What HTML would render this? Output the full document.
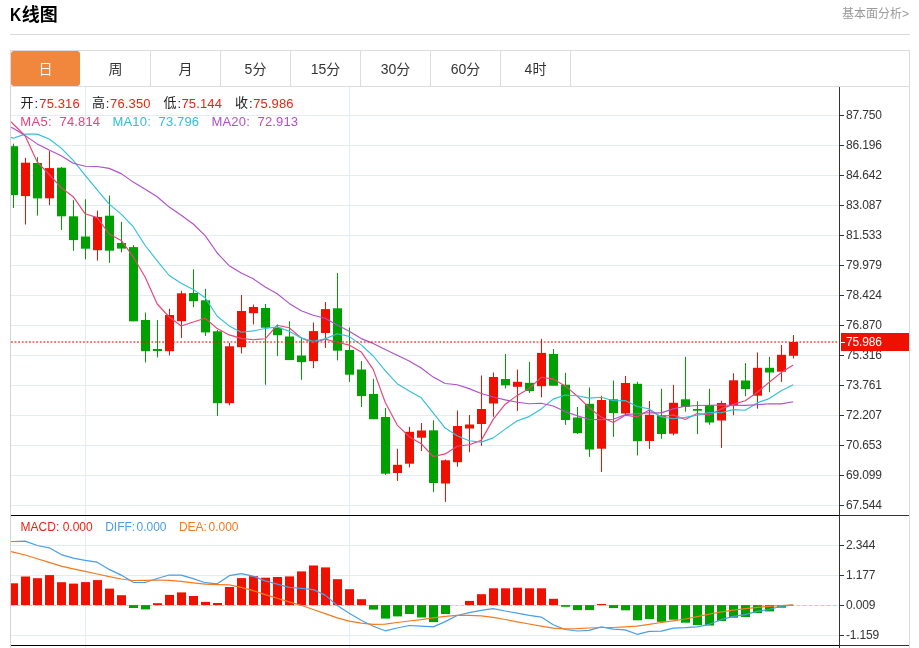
<!DOCTYPE html><html lang="zh"><head><meta charset="utf-8"><title>K线图</title><style>
html,body{margin:0;padding:0;background:#fff}
body{width:919px;height:648px;overflow:hidden;position:relative;font-family:"Liberation Sans","Noto Sans CJK SC",sans-serif;color:#333}
.title{position:absolute;left:10px;top:2px;font-size:18px;font-weight:bold;color:#000;line-height:26px;white-space:nowrap}
.more{position:absolute;right:10px;top:4.5px;font-size:12px;color:#999;line-height:18px;white-space:nowrap}
.hr{position:absolute;left:10px;top:34px;width:900px;height:1px;background:#d9d9d9}
.tabs{position:absolute;left:10px;top:50px;width:898px;height:35px;border:1px solid #dcdcdc;background:#fff}
.tab{position:absolute;top:0;width:69px;height:35px;line-height:36px;text-align:center;font-size:14px;color:#333;border-right:1px solid #dcdcdc}
.tab.on{background:#f0873c;color:#fff;border-radius:3px;border-right:0;width:69px}
svg{position:absolute;left:0;top:0}
svg text{font-family:"Liberation Sans","Noto Sans CJK SC",sans-serif}

</style></head><body>
<div class="title"><span style="display:inline-block;transform:scaleX(0.86);transform-origin:0 50%;margin-right:-1.2px">K</span>线图</div>
<div class="more">基本面分析&gt;</div>
<div class="hr"></div>
<div class="tabs">
<div class="tab on" style="left:0px">日</div>
<div class="tab" style="left:70px">周</div>
<div class="tab" style="left:140px">月</div>
<div class="tab" style="left:210px">5分</div>
<div class="tab" style="left:280px">15分</div>
<div class="tab" style="left:350px">30分</div>
<div class="tab" style="left:420px">60分</div>
<div class="tab" style="left:490px">4时</div>
</div>
<svg width="919" height="648" viewBox="0 0 919 648">
<defs><clipPath id="cp"><rect x="11" y="87" width="828" height="561"/></clipPath></defs>
<rect x="10" y="87" width="1" height="561" fill="#d4d4d4"/>
<rect x="909" y="87" width="1" height="561" fill="#dcdcdc"/>
<rect x="11" y="115" width="828" height="1" fill="#e1ecf4"/>
<rect x="11" y="145" width="828" height="1" fill="#e1ecf4"/>
<rect x="11" y="175" width="828" height="1" fill="#e1ecf4"/>
<rect x="11" y="205" width="828" height="1" fill="#e1ecf4"/>
<rect x="11" y="235" width="828" height="1" fill="#e1ecf4"/>
<rect x="11" y="265" width="828" height="1" fill="#e1ecf4"/>
<rect x="11" y="295" width="828" height="1" fill="#e1ecf4"/>
<rect x="11" y="325" width="828" height="1" fill="#e1ecf4"/>
<rect x="11" y="355" width="828" height="1" fill="#e1ecf4"/>
<rect x="11" y="385" width="828" height="1" fill="#e1ecf4"/>
<rect x="11" y="415" width="828" height="1" fill="#e1ecf4"/>
<rect x="11" y="445" width="828" height="1" fill="#e1ecf4"/>
<rect x="11" y="475" width="828" height="1" fill="#e1ecf4"/>
<rect x="11" y="505" width="828" height="1" fill="#e1ecf4"/>
<rect x="11" y="545" width="828" height="1" fill="#e1ecf4"/>
<rect x="11" y="575" width="828" height="1" fill="#e1ecf4"/>
<rect x="11" y="605" width="828" height="1" fill="#e1ecf4"/>
<rect x="11" y="635" width="828" height="1" fill="#e1ecf4"/>
<rect x="85" y="87" width="1" height="561" fill="#e1ecf4"/>
<rect x="349" y="87" width="1" height="561" fill="#e1ecf4"/>
<line x1="11" y1="605.5" x2="839" y2="605.5" stroke="#a4d6f0" stroke-width="1" stroke-dasharray="3.2 2.8"/>
<g clip-path="url(#cp)">
<rect x="13.0" y="143.7" width="1" height="64.3" fill="#00a000"/>
<rect x="9.0" y="146.2" width="9" height="48.9" fill="#00a000"/>
<rect x="25.0" y="157.8" width="1" height="66.7" fill="#ee1100"/>
<rect x="21.0" y="162.7" width="9" height="33.4" fill="#ee1100"/>
<rect x="37.0" y="157.1" width="1" height="58.5" fill="#00a000"/>
<rect x="33.0" y="163.0" width="9" height="35.4" fill="#00a000"/>
<rect x="49.0" y="151.2" width="1" height="54.0" fill="#ee1100"/>
<rect x="45.0" y="168.1" width="9" height="30.2" fill="#ee1100"/>
<rect x="61.0" y="167.1" width="1" height="62.9" fill="#00a000"/>
<rect x="57.0" y="167.7" width="9" height="48.6" fill="#00a000"/>
<rect x="73.0" y="200.1" width="1" height="50.7" fill="#00a000"/>
<rect x="69.0" y="216.3" width="9" height="23.8" fill="#00a000"/>
<rect x="85.0" y="199.2" width="1" height="60.0" fill="#00a000"/>
<rect x="81.0" y="236.5" width="9" height="12.2" fill="#00a000"/>
<rect x="97.0" y="210.6" width="1" height="50.0" fill="#ee1100"/>
<rect x="93.0" y="216.9" width="9" height="33.3" fill="#ee1100"/>
<rect x="109.0" y="195.5" width="1" height="67.4" fill="#00a000"/>
<rect x="105.0" y="215.7" width="9" height="35.0" fill="#00a000"/>
<rect x="121.0" y="221.8" width="1" height="30.5" fill="#00a000"/>
<rect x="117.0" y="243.0" width="9" height="5.6" fill="#00a000"/>
<rect x="133.0" y="245.1" width="1" height="76.2" fill="#00a000"/>
<rect x="129.0" y="247.1" width="9" height="74.2" fill="#00a000"/>
<rect x="145.0" y="312.5" width="1" height="49.9" fill="#00a000"/>
<rect x="141.0" y="320.0" width="9" height="31.2" fill="#00a000"/>
<rect x="157.0" y="320.0" width="1" height="37.4" fill="#00a000"/>
<rect x="153.0" y="349.0" width="9" height="2.0" fill="#00a000"/>
<rect x="169.0" y="308.8" width="1" height="46.6" fill="#ee1100"/>
<rect x="165.0" y="315.0" width="9" height="36.2" fill="#ee1100"/>
<rect x="181.0" y="290.8" width="1" height="47.1" fill="#ee1100"/>
<rect x="177.0" y="293.3" width="9" height="27.9" fill="#ee1100"/>
<rect x="193.0" y="269.3" width="1" height="37.9" fill="#00a000"/>
<rect x="189.0" y="293.0" width="9" height="8.2" fill="#00a000"/>
<rect x="205.0" y="288.8" width="1" height="47.1" fill="#00a000"/>
<rect x="201.0" y="300.3" width="9" height="32.1" fill="#00a000"/>
<rect x="217.0" y="330.0" width="1" height="85.9" fill="#00a000"/>
<rect x="213.0" y="331.3" width="9" height="71.9" fill="#00a000"/>
<rect x="229.0" y="343.0" width="1" height="62.4" fill="#ee1100"/>
<rect x="225.0" y="346.3" width="9" height="56.9" fill="#ee1100"/>
<rect x="241.0" y="295.0" width="1" height="58.4" fill="#ee1100"/>
<rect x="237.0" y="311.0" width="9" height="36.2" fill="#ee1100"/>
<rect x="253.0" y="304.5" width="1" height="19.9" fill="#ee1100"/>
<rect x="249.0" y="307.0" width="9" height="6.2" fill="#ee1100"/>
<rect x="265.0" y="304.0" width="1" height="80.8" fill="#00a000"/>
<rect x="261.0" y="308.0" width="9" height="19.7" fill="#00a000"/>
<rect x="277.0" y="324.5" width="1" height="31.4" fill="#00a000"/>
<rect x="273.0" y="327.8" width="9" height="7.4" fill="#00a000"/>
<rect x="289.0" y="321.3" width="1" height="38.8" fill="#00a000"/>
<rect x="285.0" y="336.5" width="9" height="23.6" fill="#00a000"/>
<rect x="301.0" y="337.5" width="1" height="42.3" fill="#00a000"/>
<rect x="297.0" y="355.5" width="9" height="6.6" fill="#00a000"/>
<rect x="313.0" y="322.5" width="1" height="45.7" fill="#ee1100"/>
<rect x="309.0" y="331.1" width="9" height="30.0" fill="#ee1100"/>
<rect x="325.0" y="302.0" width="1" height="45.9" fill="#ee1100"/>
<rect x="321.0" y="309.1" width="9" height="23.9" fill="#ee1100"/>
<rect x="337.0" y="272.9" width="1" height="87.5" fill="#00a000"/>
<rect x="333.0" y="308.3" width="9" height="42.4" fill="#00a000"/>
<rect x="349.0" y="327.5" width="1" height="54.4" fill="#00a000"/>
<rect x="345.0" y="350.0" width="9" height="24.7" fill="#00a000"/>
<rect x="361.0" y="361.0" width="1" height="46.0" fill="#00a000"/>
<rect x="357.0" y="369.5" width="9" height="26.6" fill="#00a000"/>
<rect x="373.0" y="378.8" width="1" height="40.4" fill="#00a000"/>
<rect x="369.0" y="394.0" width="9" height="25.2" fill="#00a000"/>
<rect x="385.0" y="408.0" width="1" height="66.9" fill="#00a000"/>
<rect x="381.0" y="417.0" width="9" height="56.7" fill="#00a000"/>
<rect x="397.0" y="448.8" width="1" height="32.1" fill="#ee1100"/>
<rect x="393.0" y="464.8" width="9" height="8.2" fill="#ee1100"/>
<rect x="409.0" y="426.8" width="1" height="40.6" fill="#ee1100"/>
<rect x="405.0" y="431.8" width="9" height="31.9" fill="#ee1100"/>
<rect x="421.0" y="423.0" width="1" height="28.0" fill="#ee1100"/>
<rect x="417.0" y="430.5" width="9" height="7.2" fill="#ee1100"/>
<rect x="433.0" y="420.3" width="1" height="71.9" fill="#00a000"/>
<rect x="429.0" y="430.3" width="9" height="52.7" fill="#00a000"/>
<rect x="445.0" y="459.5" width="1" height="42.4" fill="#ee1100"/>
<rect x="441.0" y="460.3" width="9" height="23.2" fill="#ee1100"/>
<rect x="457.0" y="410.5" width="1" height="56.2" fill="#ee1100"/>
<rect x="453.0" y="426.0" width="9" height="36.2" fill="#ee1100"/>
<rect x="469.0" y="415.0" width="1" height="37.2" fill="#ee1100"/>
<rect x="465.0" y="424.5" width="9" height="4.0" fill="#ee1100"/>
<rect x="481.0" y="375.5" width="1" height="70.4" fill="#ee1100"/>
<rect x="477.0" y="409.0" width="9" height="15.0" fill="#ee1100"/>
<rect x="493.0" y="372.5" width="1" height="44.2" fill="#ee1100"/>
<rect x="489.0" y="377.0" width="9" height="26.5" fill="#ee1100"/>
<rect x="505.0" y="354.0" width="1" height="34.4" fill="#00a000"/>
<rect x="501.0" y="379.0" width="9" height="6.3" fill="#00a000"/>
<rect x="517.0" y="369.5" width="1" height="41.4" fill="#ee1100"/>
<rect x="513.0" y="381.8" width="9" height="5.0" fill="#ee1100"/>
<rect x="529.0" y="361.8" width="1" height="31.1" fill="#00a000"/>
<rect x="525.0" y="382.8" width="9" height="8.2" fill="#00a000"/>
<rect x="541.0" y="338.9" width="1" height="58.4" fill="#ee1100"/>
<rect x="537.0" y="352.9" width="9" height="33.3" fill="#ee1100"/>
<rect x="553.0" y="349.0" width="1" height="36.7" fill="#00a000"/>
<rect x="549.0" y="354.0" width="9" height="31.7" fill="#00a000"/>
<rect x="565.0" y="372.9" width="1" height="52.0" fill="#00a000"/>
<rect x="561.0" y="384.7" width="9" height="35.3" fill="#00a000"/>
<rect x="577.0" y="407.0" width="1" height="26.9" fill="#00a000"/>
<rect x="573.0" y="417.5" width="9" height="15.7" fill="#00a000"/>
<rect x="589.0" y="387.5" width="1" height="69.4" fill="#00a000"/>
<rect x="585.0" y="403.8" width="9" height="45.7" fill="#00a000"/>
<rect x="601.0" y="395.8" width="1" height="76.1" fill="#ee1100"/>
<rect x="597.0" y="400.0" width="9" height="48.7" fill="#ee1100"/>
<rect x="613.0" y="380.5" width="1" height="56.4" fill="#00a000"/>
<rect x="609.0" y="399.3" width="9" height="13.7" fill="#00a000"/>
<rect x="625.0" y="376.0" width="1" height="39.4" fill="#ee1100"/>
<rect x="621.0" y="383.0" width="9" height="30.5" fill="#ee1100"/>
<rect x="637.0" y="381.8" width="1" height="73.6" fill="#00a000"/>
<rect x="633.0" y="383.8" width="9" height="57.4" fill="#00a000"/>
<rect x="649.0" y="401.0" width="1" height="47.9" fill="#ee1100"/>
<rect x="645.0" y="414.8" width="9" height="26.2" fill="#ee1100"/>
<rect x="661.0" y="388.8" width="1" height="49.9" fill="#00a000"/>
<rect x="657.0" y="415.3" width="9" height="18.7" fill="#00a000"/>
<rect x="673.0" y="384.8" width="1" height="50.6" fill="#ee1100"/>
<rect x="669.0" y="402.8" width="9" height="30.9" fill="#ee1100"/>
<rect x="685.0" y="356.8" width="1" height="54.9" fill="#00a000"/>
<rect x="681.0" y="399.3" width="9" height="7.7" fill="#00a000"/>
<rect x="697.0" y="401.3" width="1" height="32.9" fill="#00a000"/>
<rect x="693.0" y="409.0" width="9" height="1.7" fill="#00a000"/>
<rect x="709.0" y="388.9" width="1" height="35.9" fill="#00a000"/>
<rect x="705.0" y="405.0" width="9" height="17.5" fill="#00a000"/>
<rect x="721.0" y="400.8" width="1" height="47.1" fill="#ee1100"/>
<rect x="717.0" y="403.0" width="9" height="17.5" fill="#ee1100"/>
<rect x="733.0" y="373.3" width="1" height="41.9" fill="#ee1100"/>
<rect x="729.0" y="380.3" width="9" height="25.3" fill="#ee1100"/>
<rect x="745.0" y="363.1" width="1" height="33.1" fill="#00a000"/>
<rect x="741.0" y="380.5" width="9" height="8.6" fill="#00a000"/>
<rect x="757.0" y="352.5" width="1" height="56.2" fill="#ee1100"/>
<rect x="753.0" y="367.8" width="9" height="27.9" fill="#ee1100"/>
<rect x="769.0" y="356.8" width="1" height="35.4" fill="#00a000"/>
<rect x="765.0" y="367.8" width="9" height="4.7" fill="#00a000"/>
<rect x="781.0" y="345.0" width="1" height="36.9" fill="#ee1100"/>
<rect x="777.0" y="354.8" width="9" height="16.9" fill="#ee1100"/>
<rect x="793.0" y="335.0" width="1" height="23.5" fill="#ee1100"/>
<rect x="789.0" y="342.0" width="9" height="13.8" fill="#ee1100"/>
<rect x="9.0" y="583.3" width="9" height="21.8" fill="#ee1100"/>
<rect x="21.0" y="576.5" width="9" height="28.6" fill="#ee1100"/>
<rect x="33.0" y="578.2" width="9" height="26.9" fill="#ee1100"/>
<rect x="45.0" y="575.1" width="9" height="30.0" fill="#ee1100"/>
<rect x="57.0" y="582.2" width="9" height="22.9" fill="#ee1100"/>
<rect x="69.0" y="583.6" width="9" height="21.5" fill="#ee1100"/>
<rect x="81.0" y="582.1" width="9" height="23.0" fill="#ee1100"/>
<rect x="93.0" y="580.1" width="9" height="25.0" fill="#ee1100"/>
<rect x="105.0" y="588.6" width="9" height="16.5" fill="#ee1100"/>
<rect x="117.0" y="595.2" width="9" height="9.9" fill="#ee1100"/>
<rect x="129.0" y="605.1" width="9" height="2.9" fill="#00a000"/>
<rect x="141.0" y="605.1" width="9" height="4.3" fill="#00a000"/>
<rect x="153.0" y="603.2" width="9" height="1.9" fill="#ee1100"/>
<rect x="165.0" y="594.9" width="9" height="10.2" fill="#ee1100"/>
<rect x="177.0" y="592.4" width="9" height="12.7" fill="#ee1100"/>
<rect x="189.0" y="596.0" width="9" height="9.1" fill="#ee1100"/>
<rect x="201.0" y="601.9" width="9" height="3.2" fill="#ee1100"/>
<rect x="213.0" y="603.0" width="9" height="2.1" fill="#ee1100"/>
<rect x="225.0" y="587.0" width="9" height="18.1" fill="#ee1100"/>
<rect x="237.0" y="578.1" width="9" height="27.0" fill="#ee1100"/>
<rect x="249.0" y="576.2" width="9" height="28.9" fill="#ee1100"/>
<rect x="261.0" y="577.7" width="9" height="27.4" fill="#ee1100"/>
<rect x="273.0" y="577.0" width="9" height="28.1" fill="#ee1100"/>
<rect x="285.0" y="576.4" width="9" height="28.7" fill="#ee1100"/>
<rect x="297.0" y="571.4" width="9" height="33.7" fill="#ee1100"/>
<rect x="309.0" y="565.5" width="9" height="39.6" fill="#ee1100"/>
<rect x="321.0" y="567.4" width="9" height="37.7" fill="#ee1100"/>
<rect x="333.0" y="579.2" width="9" height="25.9" fill="#ee1100"/>
<rect x="345.0" y="589.2" width="9" height="15.9" fill="#ee1100"/>
<rect x="357.0" y="599.2" width="9" height="5.9" fill="#ee1100"/>
<rect x="369.0" y="605.1" width="9" height="4.5" fill="#00a000"/>
<rect x="381.0" y="605.1" width="9" height="13.5" fill="#00a000"/>
<rect x="393.0" y="605.1" width="9" height="11.3" fill="#00a000"/>
<rect x="405.0" y="605.1" width="9" height="8.9" fill="#00a000"/>
<rect x="417.0" y="605.1" width="9" height="12.4" fill="#00a000"/>
<rect x="429.0" y="605.1" width="9" height="17.0" fill="#00a000"/>
<rect x="441.0" y="605.1" width="9" height="8.9" fill="#00a000"/>
<rect x="465.0" y="600.9" width="9" height="4.2" fill="#ee1100"/>
<rect x="477.0" y="594.2" width="9" height="10.9" fill="#ee1100"/>
<rect x="489.0" y="588.3" width="9" height="16.8" fill="#ee1100"/>
<rect x="501.0" y="588.3" width="9" height="16.8" fill="#ee1100"/>
<rect x="513.0" y="587.7" width="9" height="17.4" fill="#ee1100"/>
<rect x="525.0" y="588.3" width="9" height="16.8" fill="#ee1100"/>
<rect x="537.0" y="588.3" width="9" height="16.8" fill="#ee1100"/>
<rect x="549.0" y="598.8" width="9" height="6.3" fill="#ee1100"/>
<rect x="561.0" y="605.1" width="9" height="1.7" fill="#00a000"/>
<rect x="573.0" y="605.1" width="9" height="5.0" fill="#00a000"/>
<rect x="585.0" y="605.1" width="9" height="5.0" fill="#00a000"/>
<rect x="597.0" y="604.0" width="9" height="1.1" fill="#ee1100"/>
<rect x="609.0" y="605.1" width="9" height="3.0" fill="#00a000"/>
<rect x="621.0" y="605.1" width="9" height="5.2" fill="#00a000"/>
<rect x="633.0" y="605.1" width="9" height="15.2" fill="#00a000"/>
<rect x="645.0" y="605.1" width="9" height="13.9" fill="#00a000"/>
<rect x="657.0" y="605.1" width="9" height="16.7" fill="#00a000"/>
<rect x="669.0" y="605.1" width="9" height="14.6" fill="#00a000"/>
<rect x="681.0" y="605.1" width="9" height="17.6" fill="#00a000"/>
<rect x="693.0" y="605.1" width="9" height="20.0" fill="#00a000"/>
<rect x="705.0" y="605.1" width="9" height="20.4" fill="#00a000"/>
<rect x="717.0" y="605.1" width="9" height="15.9" fill="#00a000"/>
<rect x="729.0" y="605.1" width="9" height="12.6" fill="#00a000"/>
<rect x="741.0" y="605.1" width="9" height="11.9" fill="#00a000"/>
<rect x="753.0" y="605.1" width="9" height="8.0" fill="#00a000"/>
<rect x="765.0" y="605.1" width="9" height="6.3" fill="#00a000"/>
<rect x="777.0" y="605.1" width="9" height="2.6" fill="#00a000"/>
<polyline points="1.2,111.5 13.2,124.0 25.2,136.0 37.2,162.0 49.2,174.5 61.2,187.7 73.2,196.7 85.2,213.8 97.2,217.6 109.2,234.0 121.2,240.4 133.2,256.7 145.2,277.2 157.2,304.0 169.2,317.0 181.2,326.0 193.2,322.0 205.2,318.3 217.2,328.6 229.2,334.9 241.2,338.4 253.2,339.7 265.2,338.8 277.2,325.2 289.2,327.8 301.2,337.9 313.2,342.7 325.2,339.1 337.2,342.2 349.2,345.1 361.2,351.9 373.2,369.4 385.2,402.2 397.2,425.1 409.2,436.7 421.2,443.7 433.2,456.5 445.2,453.9 457.2,446.2 469.2,444.7 481.2,440.4 493.2,419.4 505.2,404.2 517.2,395.4 529.2,388.5 541.2,377.3 553.2,378.9 565.2,385.9 577.2,396.0 589.2,407.7 601.2,417.1 613.2,422.6 625.2,415.3 637.2,416.9 649.2,410.1 661.2,416.8 673.2,414.9 685.2,419.5 697.2,413.5 709.2,414.9 721.2,408.9 733.2,404.4 745.2,400.8 757.2,392.3 769.2,382.3 781.2,372.6 793.2,365.0" fill="none" stroke="#e8447a" stroke-width="1.15" stroke-linejoin="round"/>
<polyline points="1.2,132.8 13.2,138.3 25.2,134.1 37.2,134.1 49.2,139.0 61.2,148.1 73.2,160.4 85.2,175.4 97.2,189.8 109.2,204.1 121.2,214.1 133.2,226.7 145.2,245.5 157.2,260.8 169.2,275.5 181.2,283.2 193.2,289.4 205.2,297.7 217.2,316.3 229.2,325.9 241.2,332.2 253.2,330.9 265.2,328.5 277.2,326.9 289.2,331.3 301.2,338.1 313.2,341.2 325.2,338.9 337.2,333.7 349.2,336.4 361.2,344.9 373.2,356.0 385.2,370.6 397.2,383.7 409.2,390.9 421.2,397.8 433.2,412.9 445.2,428.1 457.2,435.7 469.2,440.7 481.2,442.1 493.2,437.9 505.2,429.1 517.2,420.8 529.2,416.6 541.2,408.9 553.2,399.1 565.2,395.0 577.2,395.7 589.2,398.1 601.2,397.2 613.2,400.8 625.2,400.6 637.2,406.5 649.2,408.9 661.2,416.9 673.2,418.7 685.2,417.4 697.2,415.2 709.2,412.5 721.2,412.8 733.2,409.6 745.2,410.2 757.2,402.9 769.2,398.6 781.2,390.8 793.2,384.7" fill="none" stroke="#30c0d8" stroke-width="1.15" stroke-linejoin="round"/>
<polyline points="1.2,123.8 13.2,128.2 25.2,135.6 37.2,143.9 49.2,150.1 61.2,155.7 73.2,163.2 85.2,166.2 97.2,166.5 109.2,168.4 121.2,173.6 133.2,182.1 145.2,189.3 157.2,196.7 169.2,207.1 181.2,215.2 193.2,224.0 205.2,235.6 217.2,253.0 229.2,265.7 241.2,273.1 253.2,278.8 265.2,287.0 277.2,293.8 289.2,303.4 301.2,310.7 313.2,315.3 325.2,318.3 337.2,325.0 349.2,331.2 361.2,338.6 373.2,343.4 385.2,349.6 397.2,355.3 409.2,361.1 421.2,368.0 433.2,377.1 445.2,383.5 457.2,384.7 469.2,388.6 481.2,393.5 493.2,397.0 505.2,399.9 517.2,402.2 529.2,403.8 541.2,403.3 553.2,406.0 565.2,411.6 577.2,415.7 589.2,419.4 601.2,419.6 613.2,419.3 625.2,414.8 637.2,413.6 649.2,412.8 661.2,412.9 673.2,408.9 685.2,406.2 697.2,405.5 709.2,405.3 721.2,405.0 733.2,405.2 745.2,405.4 757.2,404.7 769.2,403.8 781.2,403.9 793.2,401.7" fill="none" stroke="#b050c8" stroke-width="1.15" stroke-linejoin="round"/>
<polyline points="1.2,541.6 13.2,541.5 25.2,541.1 37.2,545.5 49.2,547.8 61.2,554.6 73.2,558.1 85.2,560.3 97.2,562.2 109.2,569.4 121.2,575.1 133.2,582.3 145.2,582.5 157.2,578.5 169.2,575.0 181.2,575.1 193.2,578.6 205.2,582.7 217.2,583.8 229.2,575.7 241.2,573.6 253.2,576.2 265.2,580.9 277.2,584.2 289.2,587.3 301.2,588.3 313.2,589.6 325.2,595.1 337.2,605.5 349.2,613.2 361.2,620.3 373.2,626.2 385.2,630.8 397.2,628.0 409.2,625.5 421.2,626.2 433.2,626.9 445.2,621.6 457.2,615.5 469.2,612.7 481.2,610.3 493.2,608.6 505.2,611.0 517.2,613.1 529.2,615.3 541.2,617.1 553.2,624.7 565.2,629.5 577.2,631.0 589.2,630.4 601.2,626.9 613.2,629.1 625.2,629.9 637.2,634.3 649.2,631.4 661.2,631.2 673.2,628.2 685.2,627.7 697.2,626.8 709.2,624.3 721.2,619.7 733.2,616.4 745.2,614.7 757.2,611.4 769.2,609.5 781.2,606.2 793.2,605.1" fill="none" stroke="#4a9ee8" stroke-width="1.2" stroke-linejoin="round"/>
<polyline points="1.2,549.5 13.2,552.2 25.2,555.0 37.2,558.7 49.2,562.4 61.2,566.1 73.2,568.8 85.2,571.4 97.2,574.0 109.2,576.6 121.2,579.0 133.2,580.5 145.2,580.3 157.2,580.0 169.2,580.3 181.2,581.4 193.2,582.9 205.2,584.2 217.2,584.6 229.2,584.9 241.2,587.3 253.2,590.7 265.2,594.6 277.2,598.3 289.2,601.8 301.2,605.3 313.2,609.5 325.2,613.6 337.2,617.9 349.2,621.2 361.2,623.2 373.2,624.3 385.2,624.1 397.2,622.5 409.2,621.0 421.2,619.7 433.2,617.9 445.2,616.4 457.2,615.3 469.2,615.3 481.2,615.8 493.2,617.3 505.2,619.5 517.2,621.8 529.2,624.0 541.2,626.2 553.2,628.2 565.2,628.8 577.2,628.6 589.2,628.0 601.2,627.5 613.2,627.5 625.2,626.9 637.2,626.2 649.2,624.3 661.2,622.5 673.2,620.8 685.2,619.0 697.2,616.6 709.2,614.2 721.2,611.9 733.2,610.1 745.2,608.6 757.2,607.3 769.2,606.4 781.2,605.5 793.2,604.9" fill="none" stroke="#f57a1e" stroke-width="1.2" stroke-linejoin="round"/>
</g>
<line x1="11" y1="342.1" x2="839" y2="342.1" stroke="#ee1100" stroke-opacity="0.75" stroke-width="1.5" stroke-dasharray="1.8 1.8"/>
<rect x="11" y="515" width="828" height="1" fill="#000"/>
<rect x="839" y="515" width="70" height="1" fill="#333"/>
<rect x="11" y="645" width="828" height="1" fill="#000"/>
<rect x="839" y="645" width="70" height="1" fill="#333"/>
<rect x="839" y="87" width="1" height="561" fill="#333"/>
<rect x="840" y="115" width="4" height="1" fill="#333"/>
<text x="846" y="119.4" font-size="12" fill="#333" letter-spacing="-0.15">87.750</text>
<rect x="840" y="145" width="4" height="1" fill="#333"/>
<text x="846" y="149.4" font-size="12" fill="#333" letter-spacing="-0.15">86.196</text>
<rect x="840" y="175" width="4" height="1" fill="#333"/>
<text x="846" y="179.4" font-size="12" fill="#333" letter-spacing="-0.15">84.642</text>
<rect x="840" y="205" width="4" height="1" fill="#333"/>
<text x="846" y="209.4" font-size="12" fill="#333" letter-spacing="-0.15">83.087</text>
<rect x="840" y="235" width="4" height="1" fill="#333"/>
<text x="846" y="239.4" font-size="12" fill="#333" letter-spacing="-0.15">81.533</text>
<rect x="840" y="265" width="4" height="1" fill="#333"/>
<text x="846" y="269.4" font-size="12" fill="#333" letter-spacing="-0.15">79.979</text>
<rect x="840" y="295" width="4" height="1" fill="#333"/>
<text x="846" y="299.4" font-size="12" fill="#333" letter-spacing="-0.15">78.424</text>
<rect x="840" y="325" width="4" height="1" fill="#333"/>
<text x="846" y="329.4" font-size="12" fill="#333" letter-spacing="-0.15">76.870</text>
<rect x="840" y="355" width="4" height="1" fill="#333"/>
<text x="846" y="359.4" font-size="12" fill="#333" letter-spacing="-0.15">75.316</text>
<rect x="840" y="385" width="4" height="1" fill="#333"/>
<text x="846" y="389.4" font-size="12" fill="#333" letter-spacing="-0.15">73.761</text>
<rect x="840" y="415" width="4" height="1" fill="#333"/>
<text x="846" y="419.4" font-size="12" fill="#333" letter-spacing="-0.15">72.207</text>
<rect x="840" y="445" width="4" height="1" fill="#333"/>
<text x="846" y="449.4" font-size="12" fill="#333" letter-spacing="-0.15">70.653</text>
<rect x="840" y="475" width="4" height="1" fill="#333"/>
<text x="846" y="479.4" font-size="12" fill="#333" letter-spacing="-0.15">69.099</text>
<rect x="840" y="505" width="4" height="1" fill="#333"/>
<text x="846" y="509.4" font-size="12" fill="#333" letter-spacing="-0.15">67.544</text>
<rect x="840" y="545" width="4" height="1" fill="#333"/>
<text x="846" y="549.4" font-size="12" fill="#333" letter-spacing="-0.15">2.344</text>
<rect x="840" y="575" width="4" height="1" fill="#333"/>
<text x="846" y="579.4" font-size="12" fill="#333" letter-spacing="-0.15">1.177</text>
<rect x="840" y="605" width="4" height="1" fill="#333"/>
<text x="846" y="609.4" font-size="12" fill="#333" letter-spacing="-0.15">0.009</text>
<rect x="840" y="635" width="4" height="1" fill="#333"/>
<text x="846" y="639.4" font-size="12" fill="#333" letter-spacing="-0.15">-1.159</text>
<rect x="841" y="333" width="68" height="18" fill="#ee1100"/>
<rect x="841" y="342" width="4" height="1" fill="#fff"/>
<text x="846" y="346.4" font-size="12" fill="#fff" letter-spacing="-0.15">75.986</text>
<text x="20.5" y="106.5" font-size="13" fill="#222">开</text>
<text x="34.5" y="107.5" font-size="13" fill="#222">:</text>
<text x="39.3" y="107.5" font-size="13" fill="#ee2211" letter-spacing="0.12">75.316</text>
<text x="92" y="106.5" font-size="13" fill="#222">高</text>
<text x="105.8" y="107.5" font-size="13" fill="#222">:</text>
<text x="110.1" y="107.5" font-size="13" fill="#ee2211" letter-spacing="0.12">76.350</text>
<text x="163.5" y="106.5" font-size="13" fill="#222">低</text>
<text x="177.4" y="107.5" font-size="13" fill="#222">:</text>
<text x="181.5" y="107.5" font-size="13" fill="#ee2211" letter-spacing="0.12">75.144</text>
<text x="235" y="106.5" font-size="13" fill="#222">收</text>
<text x="248.9" y="107.5" font-size="13" fill="#222">:</text>
<text x="253.2" y="107.5" font-size="13" fill="#ee2211" letter-spacing="0.12">75.986</text>
<text x="20.3" y="125.9" font-size="13" fill="#e8447a" letter-spacing="0.3">MA5:</text>
<text x="59.6" y="125.9" font-size="13" fill="#e8447a" letter-spacing="0.12">74.814</text>
<text x="112.4" y="125.9" font-size="13" fill="#30c0d8" letter-spacing="0.2">MA10:</text>
<text x="158.6" y="125.9" font-size="13" fill="#30c0d8" letter-spacing="0.12">73.796</text>
<text x="211.4" y="125.9" font-size="13" fill="#b050c8" letter-spacing="0.2">MA20:</text>
<text x="257.6" y="125.9" font-size="13" fill="#b050c8" letter-spacing="0.12">72.913</text>
<text x="20.6" y="530.8" font-size="12" fill="#ee2211">MACD:</text>
<text x="62.7" y="530.8" font-size="12" fill="#ee2211">0.000</text>
<text x="105.2" y="530.8" font-size="12" fill="#4a9ee8">DIFF:</text>
<text x="136.5" y="530.8" font-size="12" fill="#4a9ee8">0.000</text>
<text x="178.9" y="530.8" font-size="12" fill="#f57a1e">DEA:</text>
<text x="208.5" y="530.8" font-size="12" fill="#f57a1e">0.000</text>
</svg></body></html>
